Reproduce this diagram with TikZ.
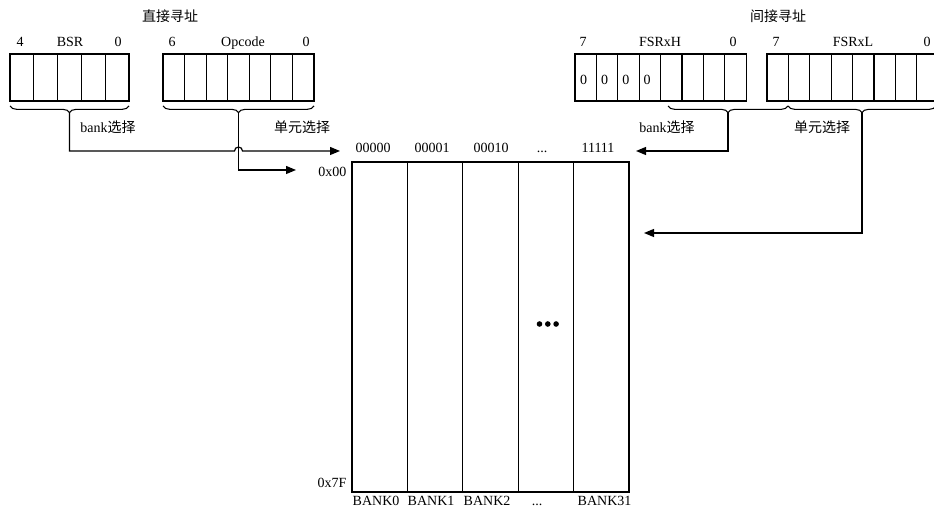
\documentclass[tikz,border=0pt]{standalone}
\usepackage{fontspec}
\setmainfont{Liberation Serif}
\newfontfamily\cjk{Noto Sans CJK SC}
\usetikzlibrary{arrows.meta,decorations.pathreplacing}
\newcommand{\bankdots}{...}

\begin{document}
\begin{tikzpicture}[x=0.75pt,y=-0.75pt,
    font=\fontsize{10.5}{12}\selectfont,
    cell/.style={draw,line width=0.9pt},
    bitbrace/.style={decorate,line width=0.8pt,decoration={brace,mirror,amplitude=5pt}},
    feed/.style={line width=0.9pt,-{Triangle[length=7.5pt,width=6pt]}},
    dot/.style={circle,fill,inner sep=0pt,minimum size=4.2pt}]
    \useasboundingbox (0,0) rectangle (934,516);

    \node (direct) at (170,16) {\cjk 直接寻址};
    \node (indirect) at (778,16) {\cjk 间接寻址};

    % registers
    \foreach \i in {0,...,4} \draw[cell] ({10+23.8*\i},54) rectangle ++(23.8,47);
    \foreach \i in {0,...,6} \draw[cell] ({163+21.57*\i},54) rectangle ++(21.57,47);
    \foreach \i in {0,...,7}{
        \draw[cell] ({575+21.4*\i},54) rectangle ++(21.4,47);
        \draw[cell] ({767+21.4*\i},54) rectangle ++(21.4,47);
    }
    \foreach \i in {0,...,3} \node[anchor=base] (zero\i) at ({583.5+21.2*\i},85) {0};

    \foreach \x/\t [count=\k] in {20/4,70/BSR,118/0,172/6,243/Opcode,306/0,
                                 583/7,660/FSRxH,733/0,776/7,853/FSRxL,927/0}
        \node[anchor=base] (bit\k) at (\x,46.5) {\t};

    % braces
    \draw[bitbrace] (10,106) -- (129,106);
    \draw[bitbrace] (163,106) -- (314,106);
    \draw[bitbrace] (668,106) -- (788,106);
    \draw[bitbrace] (788,106) -- (936,106);
    \coordinate (bsrtip) at (69.5,112.5);
    \coordinate (optip) at (238.5,112.5);
    \coordinate (hitip) at (728,112.5);
    \coordinate (lotip) at (862,112.5);

    \node[anchor=base] (bsrsel) at (108,133) {bank{\cjk 选择}};
    \node[anchor=base] (opsel) at (302,133) {\cjk 单元选择};
    \node[anchor=base] (hisel) at (667,133) {bank{\cjk 选择}};
    \node[anchor=base] (losel) at (822,133) {\cjk 单元选择};

    % data memory
    \foreach \i in {0,...,4} \draw[cell] ({352+55.4*\i},162) rectangle ++(55.4,330);
    \foreach \x/\t [count=\k] in {373/00000,432/00001,491/00010,542/\bankdots,598/11111}
        \node[anchor=base] (col\k) at (\x,152.5) {\t};
    \foreach \x/\t [count=\k] in {348/BANK0,403/BANK1,459/BANK2,573/BANK31}
        \node[anchor=base west] (bank\k) at (\x,505) {\t};
    \node[anchor=base] (bankgap) at (537,505) {\bankdots};
    \node[anchor=base east] (first) at (351,177) {0x00};
    \node[anchor=base east] (last) at (351,487) {0x7F};
    \foreach \k in {1,2,3} \node[dot] (dot\k) at ({539.5+8.3*(\k-1)},324) {};

    \coordinate (bankin) at (340,151);
    \coordinate (rowin) at (296,170);
    \coordinate (fsrbank) at (636,151);
    \coordinate (fsrrow) at (644,233);

    \draw[feed] (bsrtip) |- (234.5,151) arc (180:360:4) -- (bankin);
    \draw[feed] (optip) |- (rowin);
    \draw[feed] (hitip) |- (fsrbank);
    \draw[feed] (lotip) |- (fsrrow);
\end{tikzpicture}
\end{document}
